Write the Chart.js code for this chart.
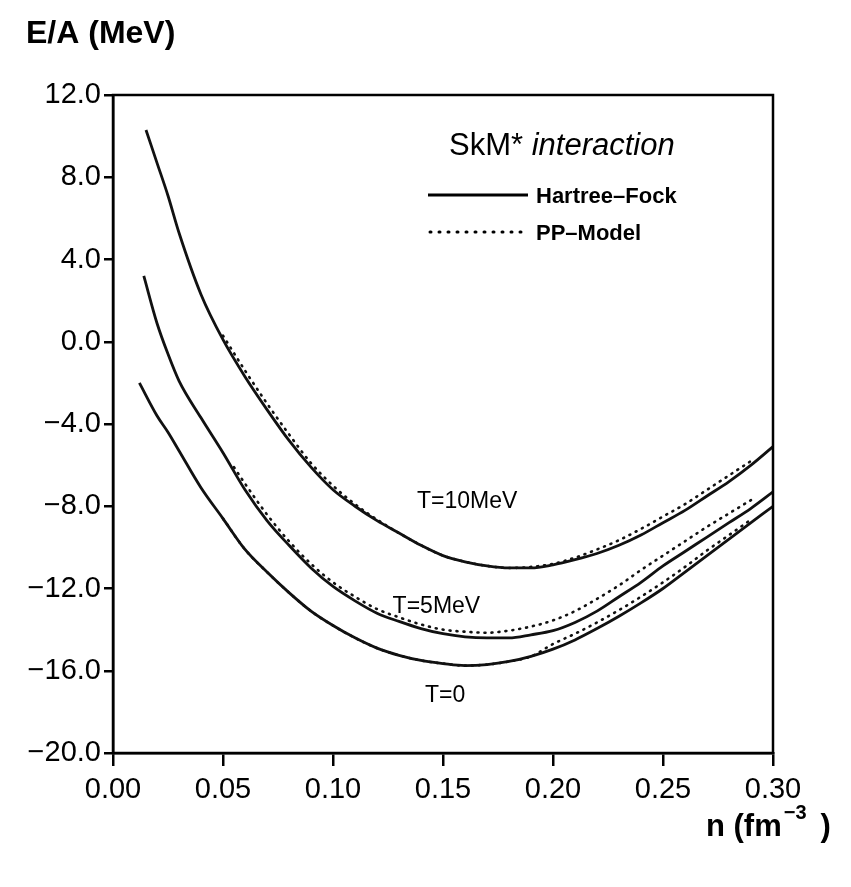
<!DOCTYPE html>
<html>
<head>
<meta charset="utf-8">
<script src="https://cdn.jsdelivr.net/npm/chart.js@4.4.0/dist/chart.umd.min.js"></script>
<style>
  html, body { margin: 0; padding: 0; background: #fff; }
</style>
</head>
<body>
<canvas id="eosChart" width="851" height="887"></canvas>
<script>
// densities (fm^-3) and E/A (MeV)
const densT10 = [0.015, 0.02, 0.025, 0.03, 0.04, 0.05, 0.06, 0.07, 0.08, 0.09, 0.10, 0.11, 0.12, 0.13, 0.14, 0.15, 0.16, 0.17, 0.18, 0.19, 0.20, 0.21, 0.22, 0.23, 0.24, 0.25, 0.26, 0.27, 0.28, 0.29, 0.30];
const hfT10 = [10.3, 8.7, 7.1, 5.3, 2.3, 0.1, -1.7, -3.3, -4.8, -6.1, -7.2, -8.0, -8.7, -9.3, -9.9, -10.4, -10.7, -10.9, -11.0, -11.0, -10.85, -10.6, -10.3, -9.9, -9.4, -8.8, -8.2, -7.5, -6.8, -6.0, -5.1];

const densT5 = [0.014, 0.02, 0.025, 0.03, 0.04, 0.05, 0.06, 0.07, 0.08, 0.09, 0.10, 0.11, 0.12, 0.13, 0.14, 0.15, 0.16, 0.17, 0.18, 0.19, 0.20, 0.21, 0.22, 0.23, 0.24, 0.25, 0.26, 0.27, 0.28, 0.29, 0.30];
const hfT5 = [3.2, 0.9, -0.6, -1.9, -3.7, -5.4, -7.2, -8.7, -9.9, -11.0, -11.9, -12.6, -13.2, -13.6, -13.95, -14.2, -14.35, -14.4, -14.4, -14.25, -14.05, -13.65, -13.1, -12.4, -11.7, -10.9, -10.2, -9.5, -8.8, -8.1, -7.3];

const densT0 = [0.012, 0.02, 0.025, 0.03, 0.04, 0.05, 0.06, 0.07, 0.08, 0.09, 0.10, 0.11, 0.12, 0.13, 0.14, 0.15, 0.16, 0.17, 0.18, 0.19, 0.20, 0.21, 0.22, 0.23, 0.24, 0.25, 0.26, 0.27, 0.28, 0.29, 0.30];
const hfT0 = [-2.0, -3.6, -4.4, -5.3, -7.1, -8.6, -10.1, -11.2, -12.2, -13.1, -13.8, -14.4, -14.9, -15.25, -15.5, -15.65, -15.75, -15.7, -15.55, -15.3, -14.95, -14.5, -13.95, -13.35, -12.7, -12.0, -11.2, -10.4, -9.6, -8.8, -8.0];

// PP-Model (dotted)
const densPP10 = [0.05, 0.06, 0.07, 0.08, 0.09, 0.10, 0.11, 0.12, 0.13, 0.14, 0.15, 0.16, 0.17, 0.18, 0.19, 0.20, 0.21, 0.22, 0.23, 0.24, 0.25, 0.26, 0.27, 0.28, 0.29];
const ppT10 = [0.3, -1.4, -3.0, -4.5, -5.9, -7.0, -7.9, -8.65, -9.3, -9.9, -10.4, -10.7, -10.9, -11.0, -10.95, -10.8, -10.5, -10.1, -9.65, -9.1, -8.5, -7.9, -7.2, -6.5, -5.8];

const densPP5 = [0.055, 0.06, 0.07, 0.08, 0.09, 0.10, 0.11, 0.12, 0.13, 0.14, 0.15, 0.16, 0.17, 0.18, 0.19, 0.20, 0.21, 0.22, 0.23, 0.24, 0.25, 0.26, 0.27, 0.28, 0.29];
const ppT5 = [-6.1, -6.9, -8.4, -9.7, -10.8, -11.7, -12.4, -13.0, -13.4, -13.75, -14.0, -14.1, -14.15, -14.05, -13.85, -13.55, -13.1, -12.5, -11.85, -11.1, -10.4, -9.7, -9.0, -8.35, -7.7];

const densPP0 = [0.05, 0.06, 0.07, 0.08, 0.09, 0.10, 0.11, 0.12, 0.13, 0.14, 0.15, 0.16, 0.17, 0.18, 0.19, 0.20, 0.21, 0.22, 0.23, 0.24, 0.25, 0.26, 0.27, 0.28, 0.29];
const ppT0 = [-8.6, -10.1, -11.2, -12.2, -13.1, -13.8, -14.4, -14.9, -15.25, -15.5, -15.65, -15.75, -15.7, -15.55, -15.3, -14.7, -14.2, -13.65, -13.05, -12.4, -11.7, -10.95, -10.15, -9.4, -8.65];

const xTicks = [0, 0.05, 0.10, 0.15, 0.20, 0.25, 0.30];
const yTicks = [12, 8, 4, 0, -4, -8, -12, -16, -20];

// curve labels: [text, density, energy]
const curveLabels = [
  ['T=10MeV', 0.161, -7.8],
  ['T=5MeV', 0.147, -12.9],
  ['T=0', 0.151, -17.2]
];

const FONT = "'Liberation Sans', Arial, Helvetica, sans-serif";

function pts(xs, ys) {
  return xs.map(function(x, i) { return { x: x, y: ys[i] }; });
}

function solid(data) {
  return { data: data, borderColor: '#111', borderWidth: 2.8, pointRadius: 0,
           cubicInterpolationMode: 'monotone', fill: false };
}
function dotted(data) {
  return { data: data, borderColor: '#111', borderWidth: 2.6, pointRadius: 0,
           borderDash: [1, 6], borderCapStyle: 'round',
           cubicInterpolationMode: 'monotone', fill: false };
}

const decorations = {
  id: 'decorations',
  afterDraw(chart) {
    const ctx = chart.ctx;
    const a = chart.chartArea;
    const xs = chart.scales.x, ys = chart.scales.y;
    ctx.save();
    // box
    ctx.strokeStyle = '#000';
    ctx.lineWidth = 2.5;
    ctx.strokeRect(a.left, a.top, a.right - a.left, a.bottom - a.top);

    ctx.fillStyle = '#000';
    ctx.textBaseline = 'alphabetic';
    // axis titles
    ctx.font = 'bold 32px ' + FONT;
    ctx.textAlign = 'left';
    ctx.fillText('E/A (MeV)', 26, 43);

    ctx.font = 'bold 31px ' + FONT;
    ctx.fillText('n (fm', 706, 836);
    let tx = 706 + ctx.measureText('n (fm').width;
    ctx.font = 'bold 20px ' + FONT;
    ctx.fillText('\u22123', tx + 2, 819);
    tx += 2 + ctx.measureText('\u22123').width;
    ctx.font = 'bold 31px ' + FONT;
    ctx.fillText(')', tx + 14, 836);

    // legend
    ctx.font = '31px ' + FONT;
    ctx.fillText('SkM* ', 449, 155);
    const w = ctx.measureText('SkM* ').width;
    ctx.font = 'italic 31px ' + FONT;
    ctx.fillText('interaction', 449 + w, 155);

    ctx.lineWidth = 3;
    ctx.beginPath();
    ctx.moveTo(428, 195); ctx.lineTo(528, 195);
    ctx.stroke();
    ctx.setLineDash([1, 8]);
    ctx.lineCap = 'round';
    ctx.beginPath();
    ctx.moveTo(430, 232); ctx.lineTo(528, 232);
    ctx.stroke();
    ctx.setLineDash([]);

    ctx.font = 'bold 22px ' + FONT;
    ctx.fillText('Hartree\u2013Fock', 536, 203);
    ctx.fillText('PP\u2013Model', 536, 240);

    // curve labels
    ctx.font = '23px ' + FONT;
    ctx.textAlign = 'center';
    ctx.textBaseline = 'middle';
    curveLabels.forEach(function(l) {
      ctx.fillText(l[0], xs.getPixelForValue(l[1]), ys.getPixelForValue(l[2]));
    });
    ctx.restore();
  }
};

Chart.defaults.color = '#000';
Chart.defaults.font.family = FONT;

new Chart(document.getElementById('eosChart'), {
  type: 'line',
  data: {
    datasets: [
      solid(pts(densT10, hfT10)),
      solid(pts(densT5, hfT5)),
      solid(pts(densT0, hfT0)),
      dotted(pts(densPP10, ppT10)),
      dotted(pts(densPP5, ppT5)),
      dotted(pts(densPP0, ppT0))
    ]
  },
  options: {
    responsive: false,
    animation: false,
    devicePixelRatio: 1,
    layout: { padding: { top: 95, right: 78, left: 0, bottom: 0 } },
    plugins: { legend: { display: false }, tooltip: { enabled: false } },
    scales: {
      x: {
        type: 'linear', min: 0, max: 0.3,
        afterBuildTicks: function(s) { s.ticks = xTicks.map(function(v) { return { value: v }; }); },
        afterFit: function(s) { s.height = 134; },
        ticks: { font: { size: 29 }, color: '#000', padding: 7, maxRotation: 0,
                 callback: function(v) { return v.toFixed(2); } },
        grid: { drawOnChartArea: false, drawTicks: true, tickLength: 13, color: '#000', lineWidth: 2.5 },
        border: { display: true, color: '#000', width: 2.5 }
      },
      y: {
        min: -20, max: 12,
        afterBuildTicks: function(s) { s.ticks = yTicks.map(function(v) { return { value: v }; }); },
        afterFit: function(s) { s.width = 113; },
        ticks: { font: { size: 29 }, color: '#000', padding: 3,
                 callback: function(v) { return (v < 0 ? '\u2212' : '') + Math.abs(v).toFixed(1); } },
        grid: { drawOnChartArea: false, drawTicks: true, tickLength: 9, color: '#000', lineWidth: 2.5 },
        border: { display: true, color: '#000', width: 2.5 }
      }
    }
  },
  plugins: [decorations]
});
</script>
</body>
</html>
